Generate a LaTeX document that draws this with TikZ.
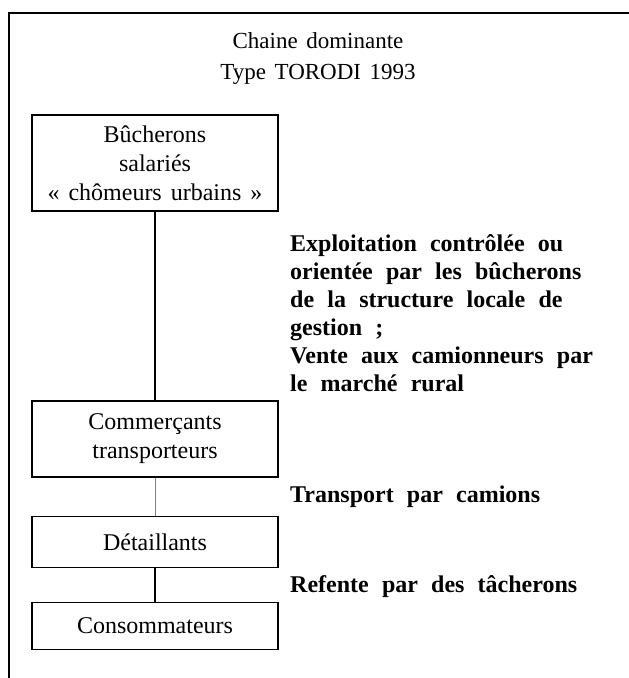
\documentclass[tikz,border=0pt]{standalone}
\usepackage{fontspec}
\setmainfont{Liberation Serif}[WordSpace=1.5]
\newfontfamily\notefont{Liberation Serif}[WordSpace=2.2]
\tikzset{
    chainbox/.style={draw,rectangle,anchor=center,line width=1.1pt,inner sep=0pt,minimum width=246pt,font=\fontsize{24}{29}\selectfont},
    chainlink/.style={line width=1.1pt},
    note/.style={anchor=west,align=left,inner sep=0pt,font=\notefont\bfseries\fontsize{24}{28}\selectfont},
}
\begin{document}
\begin{tikzpicture}[x=1pt,y=-1pt,font=\fontsize{23}{28}\selectfont]
        \useasboundingbox (0,0) rectangle (629,678);
        % cadre
        \draw[line width=1.4pt] (9,678) -- (9,13) -- (629,13);
        \node[align=center,font=\fontsize{23}{31}\selectfont] (titre) at (318,58) {Chaine dominante\\Type TORODI 1993};
        % la chaine
        \node[chainbox,minimum height=96pt] (bucherons) at (155,163) {
            \begin{minipage}{246pt}
                \centering
                Bûcherons\\
                salariés\\
                « chômeurs urbains »
            \end{minipage}
        };
        \node[chainbox,minimum height=76pt] (commercants) at (155,439) {
            \begin{minipage}{246pt}
                \centering
                Commerçants\\
                transporteurs
            \end{minipage}
        };
        \node[chainbox,minimum height=51pt] (detaillants) at (155,542) {Détaillants};
        \node[chainbox,minimum height=47pt] (consommateurs) at (155,626) {Consommateurs};
        \draw[chainlink] (bucherons) -- (commercants);
        \draw[line width=0.6pt,gray] (commercants) -- (detaillants);
        \draw[chainlink] (detaillants) -- (consommateurs);
        % commentaires
        \node[note] (exploitation) at (290,313) {Exploitation contrôlée ou\\
            orientée par les bûcherons\\
            de la structure locale de\\
            gestion ;\\
            Vente aux camionneurs par\\
            le marché rural};
        \node[note] (transport) at (290,497) {Transport par camions};
        \node[note] (refente) at (290,587) {Refente par des tâcherons};
    \end{tikzpicture}
\end{document}
